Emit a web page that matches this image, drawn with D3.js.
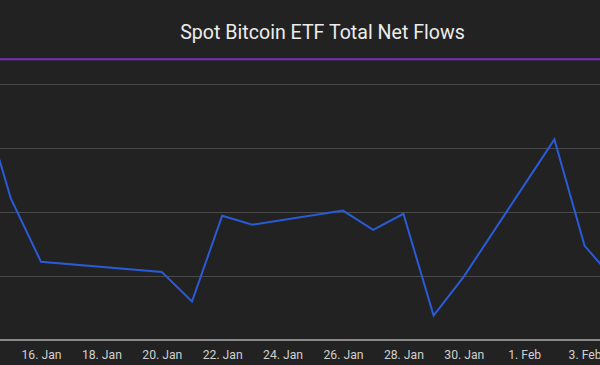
<!DOCTYPE html>
<html>
<head>
<meta charset="utf-8">
<script src="https://cdn.jsdelivr.net/npm/d3@7"></script>
<style>
  html, body { margin: 0; padding: 0; background: #222222; }
  svg { display: block; }
</style>
</head>
<body>
<div id="chart"></div>
<script>
// ---- data ----
const dates = ["2024-01-14","2024-01-15","2024-01-16","2024-01-20","2024-01-21","2024-01-22","2024-01-23","2024-01-26","2024-01-27","2024-01-28","2024-01-29","2024-01-30","2024-02-02","2024-02-03","2024-02-04"];
const flows = [281, 121, 22, 6, -40, 94, 80, 102, 72, 97, -62, -1, 213, 47, -7];
const tickDates = ["2024-01-16","2024-01-18","2024-01-20","2024-01-22","2024-01-24","2024-01-26","2024-01-28","2024-01-30","2024-02-01","2024-02-03"];
const gridValues = [0, 100, 200, 300];
const yMin = -100, yMax = 338;
const title = "Spot Bitcoin ETF Total Net Flows";

// ---- layout ----
const W = 600, H = 365;
const plotTop = 59.3, plotBottom = 340;
const parse = d3.utcParse("%Y-%m-%d");
const data = dates.map((d, i) => ({ date: parse(d), value: flows[i] }));

const x = d3.scaleUtc()
  .domain([parse("2024-01-16"), parse("2024-02-03")])
  .range([41, 584.6]);
const y = d3.scaleLinear().domain([yMin, yMax]).range([plotBottom, plotTop]);

const svg = d3.select("#chart").append("svg")
  .attr("width", W).attr("height", H);

svg.append("rect").attr("width", W).attr("height", H).attr("fill", "#222222");

svg.append("defs").append("clipPath").attr("id", "clip")
  .append("rect").attr("x", 0).attr("y", 0).attr("width", W).attr("height", plotBottom);

// title
svg.append("text")
  .attr("x", 322.5).attr("y", 38.5)
  .attr("text-anchor", "middle")
  .attr("font-family", "Roboto, sans-serif")
  .attr("font-size", 19.6)
  .attr("fill", "#ececec")
  .text(title);

// gridlines
svg.append("g").selectAll("line").data(gridValues).join("line")
  .attr("x1", 0).attr("x2", W)
  .attr("y1", d => Math.round(y(d)) + 0.5).attr("y2", d => Math.round(y(d)) + 0.5)
  .attr("stroke", "#4a4a4a").attr("stroke-width", 1);

// top purple line
svg.append("line")
  .attr("x1", 0).attr("x2", W)
  .attr("y1", y(yMax)).attr("y2", y(yMax))
  .attr("stroke", "#7b2cc2").attr("stroke-width", 2);

// x axis
const xAxis = d3.axisBottom(x)
  .tickValues(tickDates.map(parse))
  .tickFormat(d3.utcFormat("%-d. %b"))
  .tickSize(0)
  .tickPadding(10);
const gx = svg.append("g").attr("transform", `translate(0,${plotBottom})`).call(xAxis);
gx.select(".domain").remove();
gx.selectAll("text")
  .attr("font-family", "Roboto, sans-serif")
  .attr("font-size", 12.2)
  .attr("fill", "#d0d0d0");

svg.append("line")
  .attr("x1", 0).attr("x2", W)
  .attr("y1", y(yMin)).attr("y2", y(yMin))
  .attr("stroke", "#8a8a8a").attr("stroke-width", 2);

// line series
const line = d3.line().x(d => x(d.date)).y(d => y(d.value));
svg.append("path")
  .datum(data)
  .attr("clip-path", "url(#clip)")
  .attr("d", line)
  .attr("fill", "none")
  .attr("stroke", "#2a5bd7")
  .attr("stroke-width", 2)
  .attr("stroke-linejoin", "miter");
</script>
</body>
</html>
